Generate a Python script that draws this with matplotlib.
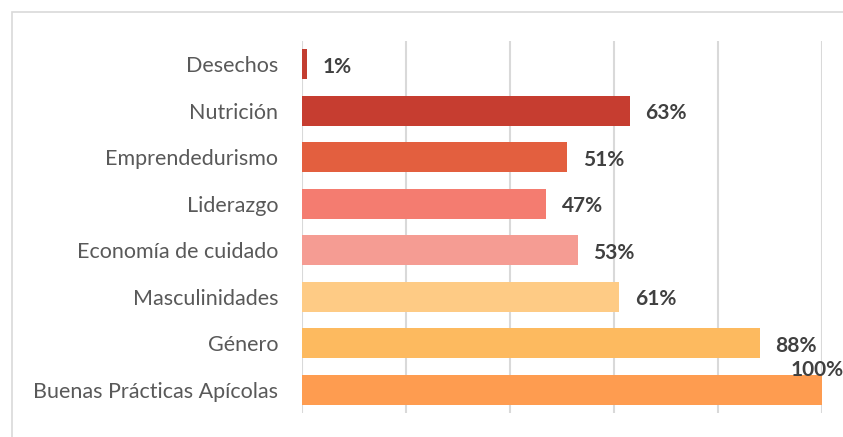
import matplotlib.pyplot as plt
from matplotlib.patches import Rectangle

categorias = ['Desechos', 'Nutrición', 'Emprendedurismo', 'Liderazgo',
              'Economía de cuidado', 'Masculinidades', 'Género',
              'Buenas Prácticas Apícolas']
valores = [1, 63, 51, 47, 53, 61, 88, 100]
colores = ['#C33D30', '#C63D30', '#E35F3F', '#F47C70',
           '#F59C93', '#FECB85', '#FDBA5F', '#FE9C50']

plt.rcParams['font.family'] = ['Lato', 'DejaVu Sans']

fig = plt.figure(figsize=(8.43, 4.37), dpi=100)
W, H = 843, 437
ax = fig.add_axes([302 / W, 1 - 413 / H, 520 / W, 372 / H])

# borde del grafico
fig.patches.append(Rectangle((12 / W, -0.1), 1.2, 1.1 - 12 / H + 0.0,
                             transform=fig.transFigure, fill=False,
                             edgecolor='#D9D9D9', linewidth=1.2, clip_on=False))

y = list(range(len(categorias)))
ax.barh(y, valores, height=0.64, color=colores, zorder=3)

ax.set_xlim(0, 100)
ax.set_ylim(len(categorias) - 0.5, -0.5)
ax.set_xticks([0, 20, 40, 60, 80, 100])
ax.set_xticklabels([])
ax.tick_params(axis='x', length=0)
ax.tick_params(axis='y', length=0, pad=17, labelsize=15.5, labelcolor='#595959')
ax.set_yticks(y)
ax.set_yticklabels(categorias)
ax.grid(axis='x', color='#D9D9D9', linewidth=1.5, zorder=0)
for s in ax.spines.values():
    s.set_visible(False)

for i, v in enumerate(valores):
    if v >= 100:
        ax.text(v - 6, i - 0.42, f'{v}%', ha='left', va='center',
                fontsize=15, fontweight='bold', color='#404040', zorder=4)
    else:
        ax.text(v + 3, i + 0.05, f'{v}%', ha='left', va='center',
                fontsize=15, fontweight='bold', color='#404040', zorder=4)

fig.savefig('out.png', dpi=100)
